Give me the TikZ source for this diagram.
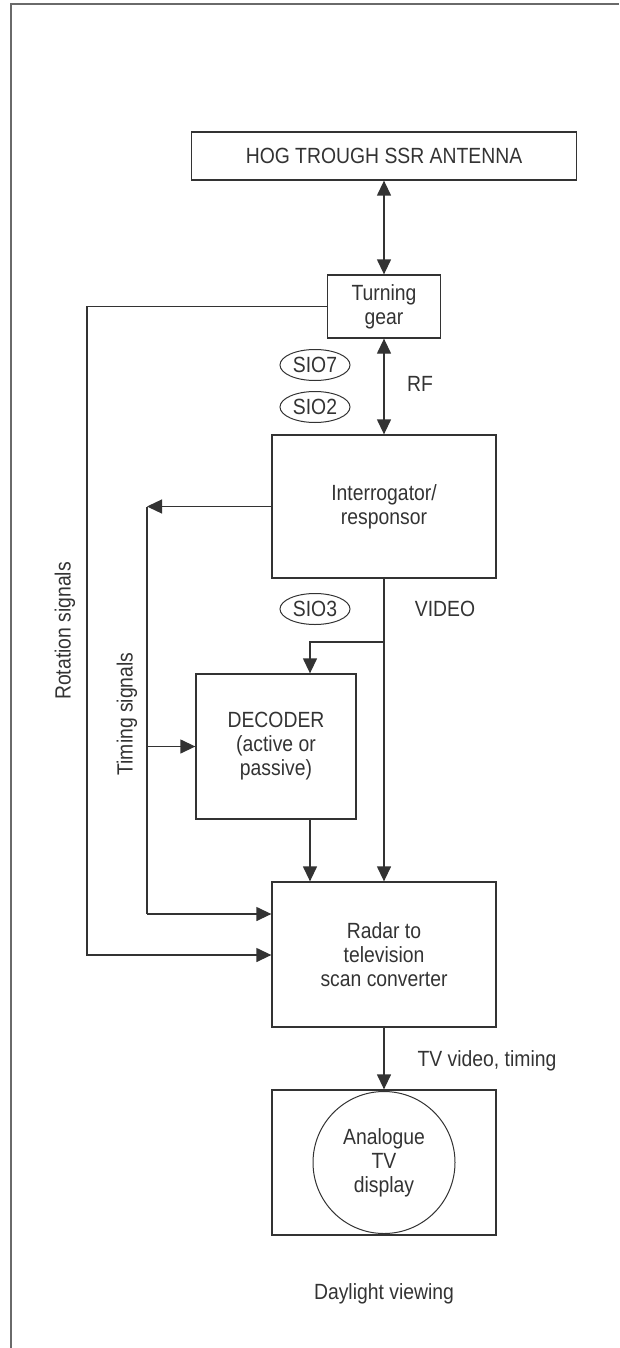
\documentclass[tikz,border=0pt]{standalone}
\usepackage{fontspec}
\setmainfont[FakeStretch=0.88]{Liberation Sans}
\usetikzlibrary{arrows.meta,shapes.geometric}
\definecolor{ink}{HTML}{333333}
\definecolor{framegray}{HTML}{6A6A6A}
\begin{document}
\begin{tikzpicture}[x=1pt,y=-1pt,font=\fontsize{22}{24}\selectfont,blk/.style={draw=ink,line width=1.3pt,inner sep=0pt,align=center,text=ink},tag/.style={draw=ink,line width=1pt,ellipse,minimum width=70pt,minimum height=31pt,inner sep=0pt,text=ink},lbl/.style={text=ink,inner sep=0pt},wire/.style={draw=ink,line width=1.3pt},arr/.style={wire,-{Triangle[length=15pt,width=14pt]}},darr/.style={wire,{Triangle[length=15pt,width=14pt]}-{Triangle[length=15pt,width=14pt]}}]
\useasboundingbox (0,0) rectangle (619,1348);
\draw[framegray,line width=2pt] (11,1348) -- (11,4) -- (619,4);
\node[blk,minimum width=385pt,minimum height=48pt] (antenna) at (384,156) {HOG TROUGH SSR ANTENNA};
\node[blk,minimum width=113pt,minimum height=63pt] (gear) at (384,306.5) {Turning\\gear};
\node[blk,minimum width=224pt,minimum height=143pt] (interr) at (384,506.5) {Interrogator/\\responsor};
\node[blk,minimum width=160pt,minimum height=145pt] (decoder) at (276,746.5) {DECODER\\(active or\\passive)};
\node[blk,minimum width=224pt,minimum height=145pt] (scan) at (384,954.5) {Radar to\\television\\scan converter};
\node[blk,minimum width=224pt,minimum height=145pt] (display) at (384,1162.5) {};
\node[draw=ink,line width=1pt,circle,minimum size=142pt,inner sep=0pt,align=center,text=ink] (tv) at (384,1162.5) {Analogue\\TV\\display};
\node[tag] (sio7) at (315,365) {SIO7};
\node[tag] (sio2) at (315,407) {SIO2};
\node[tag] (sio3) at (315,609) {SIO3};
\node[lbl] (rf) at (420,384) {RF};
\node[lbl] (video) at (445,609) {VIDEO};
\node[lbl] (tvvideo) at (487,1061) {TV video, timing};
\node[lbl] (daylight) at (384,1294) {Daylight viewing};
\node[lbl,rotate=90] (rotsig) at (65,631) {Rotation signals};
\node[lbl,rotate=90] (timsig) at (127,714) {Timing signals};
\coordinate (rotbend) at (87,955);
\coordinate (timtop) at (147,506.5);
\coordinate (timbot) at (147,914);
\coordinate (vidsplit) at (384,642);
\foreach \a/\b in {antenna/gear,gear/interr}{\draw[darr] (\a.south) -- (\b.north);}
\foreach \a/\b in {interr/scan,scan/display}{\draw[arr] (\a.south) -- (\b.north);}
\draw[arr] (gear.west) -| (rotbend) -- (rotbend -| scan.west);
\draw[arr] (interr.west) -- (timtop);
\draw[wire] (timtop) -- (timbot);
\draw[arr] (timbot) -- (timbot -| scan.west);
\draw[arr] (timtop |- decoder.west) -- (decoder.west);
\draw[arr] (vidsplit) -| ([xshift=34pt]decoder.north);
\draw[arr] ([xshift=34pt]decoder.south) -- ([xshift=34pt]decoder.south |- scan.north);
\end{tikzpicture}
\end{document}
